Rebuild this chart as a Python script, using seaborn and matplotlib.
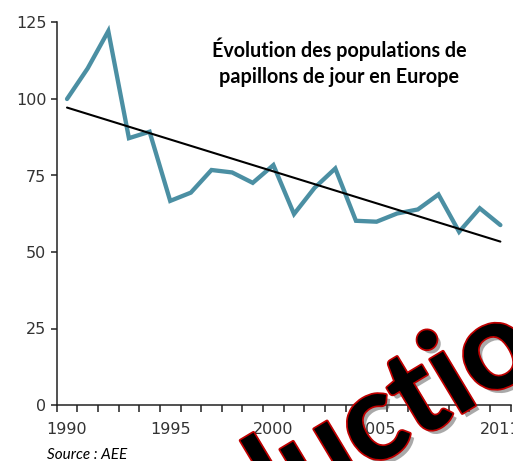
import matplotlib
matplotlib.use("Agg")
import matplotlib.pyplot as plt
import matplotlib.patheffects as pe
import seaborn as sns
import pandas as pd

years = list(range(1990, 2012))
index_values = [100, 110, 122.2, 87.2, 89.3, 66.7, 69.4, 76.8, 76.0, 72.6, 78.4,
                62.4, 71.0, 77.3, 60.2, 59.9, 62.6, 63.9, 68.8, 56.6, 64.3, 58.8]
trend_years = [1990, 2011]
trend_values = [97.2, 53.4]
x_tick_years = [1990, 1995, 2000, 2005, 2011]
y_ticks = [0, 25, 50, 75, 100, 125]
title_text = "Évolution des populations de\npapillons de jour en Europe"
source_text = "Source : AEE"
watermark_left = "Reprodu"
watermark_right = "ction"

sns.set_theme(style="white")
plt.rcParams['font.family'] = ['DejaVu Sans']

df = pd.DataFrame({"year": years, "value": index_values})
df_trend = pd.DataFrame({"year": trend_years, "value": trend_values})

fig = plt.figure(figsize=(5.13, 4.61), dpi=100)
ax = fig.add_axes([56.7 / 513, 56 / 461, (510.7 - 56.7) / 513, (405 - 22.5) / 461])

sns.lineplot(data=df, x="year", y="value", ax=ax, color="#4b8fa3", linewidth=3.1,
             solid_joinstyle="miter")
sns.lineplot(data=df_trend, x="year", y="value", ax=ax, color="black", linewidth=1.5)

ax.set_xlim(1989.5, 2011.5)
ax.set_ylim(0, 125)
ax.set_xlabel("")
ax.set_ylabel("")

for s in ["top", "right"]:
    ax.spines[s].set_visible(False)
for s in ["left", "bottom"]:
    ax.spines[s].set_color("#222222")
    ax.spines[s].set_linewidth(1.1)

ax.set_yticks(y_ticks)
ax.set_yticklabels([str(v) for v in y_ticks])
ax.set_xticks(x_tick_years)
ax.set_xticklabels([str(y) for y in x_tick_years])
ax.set_xticks([y - 0.5 for y in years] + [years[-1] + 0.5], minor=True)

ax.tick_params(axis="y", which="major", left=True, length=4.5, width=1.1,
               color="#222222", direction="out", pad=3, labelsize=11.5, labelcolor="#333333")
ax.tick_params(axis="x", which="major", bottom=True, length=0, pad=12,
               labelsize=11.5, labelcolor="#333333")
ax.tick_params(axis="x", which="minor", bottom=True, length=5, width=1.1,
               color="#222222", direction="out")
ax.grid(False)

fig.text(339 / 513, (461 - 62) / 461, title_text, ha="center", va="center",
         fontsize=14.2, fontweight="bold", family=["Lato", "DejaVu Sans"],
         linespacing=1.35, color="black")

fig.text(46.7 / 513, 2 / 461, source_text, ha="left", va="baseline",
         fontsize=11, style="italic", family=["Lato", "DejaVu Sans"], color="black")

effects = [pe.withSimplePatchShadow(offset=(3, -3), shadow_rgbFace="#555555", alpha=0.5),
           pe.Stroke(linewidth=2.5, foreground="#c00000"), pe.Normal()]
ax_x, ax_y = 366 / 513, (461 - 471) / 461
for txt, ha in [(watermark_left, "right"), (watermark_right, "left")]:
    t = fig.text(ax_x, ax_y, txt, ha=ha, va="baseline", rotation=31,
                 rotation_mode="anchor", fontsize=88, fontweight="bold",
                 family=["Lato", "DejaVu Sans"], color="black", zorder=10)
    t.set_path_effects(effects)

fig.savefig("out.png", dpi=100)
